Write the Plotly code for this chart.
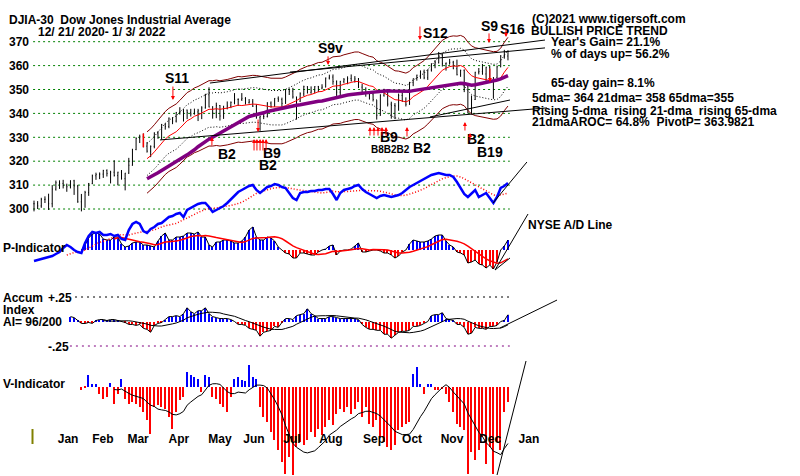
import plotly.graph_objects as go
import pandas as pd

W, H = 800, 476

# ---------------- data (one bar = 2 trading days, day 0 = 12/21/2020) ----------------
bar_day = list(range(0, 262, 2))

close = [302.2, 301.3, 304.0, 304.1, 302.2, 308.3, 311.0, 310.7, 309.9, 309.3,
         311.8, 309.6, 303.0, 299.8, 306.9, 310.6, 313.9, 314.4, 314.6, 316.1,
         314.9, 315.4, 314.0, 315.4, 312.7, 315.0, 318.3, 324.9, 329.5, 330.2,
         326.3, 324.2, 326.2, 331.7, 329.8, 335.3, 334.5, 338.0, 336.8, 340.4,
         340.8, 341.4, 340.4, 339.8, 340.6, 341.1, 342.3, 347.8, 342.7, 340.2,
         343.3, 338.9, 342.1, 343.1, 344.6, 345.8, 345.8, 346.3, 344.5, 344.8,
         343.0, 338.2, 338.8, 338.7, 344.3, 342.9, 346.3, 345.8, 344.2, 350.0,
         349.3, 346.9, 345.1, 348.2, 351.2, 348.8, 349.4, 351.2, 350.6, 351.0,
         354.8, 355.2, 353.3, 348.9, 353.4, 354.1, 354.6, 353.6, 354.4, 351.0,
         348.8, 348.7, 348.1, 345.8, 339.2, 347.6, 348.7, 343.9, 343.3, 343.1,
         347.5, 345.0, 343.8, 352.9, 354.6, 356.0, 357.4, 354.9, 358.2, 360.5,
         361.2, 364.3, 360.8, 361.0, 361.4, 358.7, 356.2, 358.0, 351.4, 340.2,
         345.8, 357.2, 357.5, 356.5, 359.3, 353.7, 354.9, 359.5, 364.0, 364.0,
         365.9]

high = [303.5, 303.3, 304.7, 305.3, 306.4, 310.0, 311.9, 312.0, 312.2, 310.6,
        312.0, 312.2, 310.1, 306.3, 307.6, 310.9, 314.4, 315.2, 315.3, 316.4,
        316.6, 316.0, 320.4, 315.6, 316.3, 315.1, 321.4, 325.2, 330.0, 331.1,
        331.6, 328.0, 326.6, 332.1, 332.6, 335.6, 335.9, 338.3, 338.4, 340.6,
        342.6, 341.8, 341.6, 341.9, 342.0, 341.9, 343.0, 348.2, 350.9, 343.0,
        344.5, 343.5, 343.2, 345.0, 345.0, 348.5, 346.3, 348.5, 346.8, 346.0,
        346.0, 343.8, 339.0, 339.8, 344.7, 345.0, 346.4, 347.1, 346.6, 350.2,
        350.5, 350.7, 347.0, 348.8, 351.6, 351.4, 351.3, 351.4, 351.5, 352.2,
        355.0, 356.2, 356.3, 353.8, 353.6, 354.8, 355.5, 356.3, 355.6, 354.8,
        352.4, 350.9, 349.0, 349.1, 345.6, 348.0, 350.3, 349.2, 344.9, 344.3,
        348.3, 348.9, 346.7, 353.2, 354.6, 356.2, 358.0, 358.3, 358.4, 361.0,
        362.3, 365.7, 365.1, 361.3, 362.8, 362.0, 362.5, 358.3, 358.4, 352.0,
        347.5, 357.4, 359.0, 360.7, 359.5, 359.9, 355.2, 360.0, 364.4, 366.6,
        366.4]

low = [299.0, 300.0, 300.5, 302.5, 299.6, 300.7, 307.7, 308.4, 308.6, 307.2,
       308.6, 305.9, 302.6, 299.0, 300.5, 305.5, 310.4, 312.2, 312.5, 313.0,
       313.6, 310.7, 313.6, 309.9, 312.3, 307.8, 314.7, 318.1, 324.6, 327.6,
       325.8, 323.6, 321.7, 325.4, 329.4, 329.0, 333.2, 333.8, 335.5, 336.2,
       339.5, 336.6, 337.6, 338.7, 339.5, 336.8, 337.6, 342.0, 342.5, 337.8,
       338.0, 337.0, 337.7, 341.7, 342.2, 343.8, 343.1, 345.2, 343.7, 344.1,
       342.7, 337.8, 332.7, 337.6, 338.3, 342.4, 342.8, 344.8, 342.2, 344.0,
       347.7, 346.2, 337.4, 344.8, 347.2, 348.3, 348.2, 348.4, 348.9, 350.1,
       350.9, 354.2, 352.0, 347.3, 347.5, 352.6, 352.2, 353.4, 352.9, 350.6,
       348.1, 347.0, 345.8, 345.0, 337.4, 339.0, 347.0, 342.9, 337.8, 337.6,
       341.1, 344.9, 342.9, 343.6, 351.4, 353.7, 354.5, 354.3, 354.0, 357.5,
       358.9, 360.9, 359.6, 357.9, 360.4, 358.5, 355.9, 355.3, 348.9, 340.0,
       339.6, 345.6, 356.3, 356.2, 353.6, 352.9, 346.1, 354.7, 359.3, 362.9,
       362.2]

key_bar = [30]  # bar drawn in red

ad_line = [9, 10, 11, 12, 13, 14, 16, 18, 22, 25,
           23, 20, 18, 17, 27, 34, 38, 37, 38, 35,
           35, 36, 34, 35, 31, 30, 40, 46, 48, 46,
           39, 37, 41, 43, 46, 47, 50, 53, 54, 56,
           57, 53, 60, 62, 64, 66, 67, 67, 63, 58,
           60, 62, 64, 67, 71, 75, 78, 80, 82, 84,
           85, 80, 77, 80, 83, 84, 86, 85, 83, 82,
           77, 72, 70, 77, 78, 78, 79, 79, 80, 80,
           81, 81, 76, 70, 77, 80, 81, 82, 84, 85,
           81, 78, 76, 74, 72, 74, 75, 74, 73, 74,
           75, 77, 80, 83, 85, 87, 89, 91, 93, 95,
           96, 97, 96, 95, 95, 93, 88, 82, 76, 73,
           77, 80, 73, 75, 77, 72, 67, 73, 82, 84,
           87]

p_ind = [None] * 13 + [
    0, 5, 12, 16, 17, 16, 11, 10, 10, 13,
    13, 6, 3, 4, 7, 8, 8, 5, 5, 4,
    3, 9, 14, 17, 10, 10, 13, 13, 14, 17,
    17, 16, 18, 13, 13, 5, 3, 8, 8, 10,
    10, 9, 7, 7, 9, 13, 20, 23, 13, 10,
    10, 13, 12, 9, 3, 0, -3, -4, -8, -8,
    -3, -3, -4, -5, -5, -2, 0, 1, 4, 5,
    -5, -1, 0, 0, 1, 4, 7, -2, -2, -1,
    0, 0, -1, -3, -3, -5, -8, -6, -2, 0,
    6, 10, 9, 8, 8, 9, 11, 14, 15, 15,
    9, 5, 3, -2, -3, -5, -13, -12, -10, -14,
    -15, -18, -15, -19, -12, 0, 4, 10]

accum = [None] * 10 + [
    5, 4, 1, -2, -2, -1, -2, 1, 2, 2,
    1, 2, 2, 1, 0, -1, -3, -3, -4, -3,
    -7, -8, -11, -4, -2, -1, 2, 5, 5, 6,
    5, 8, 14, 10, 8, 11, 11, 14, 8, 5,
    4, 3, 3, 3, 2, 0, -3, -3, -4, -7,
    -8, -9, -15, -11, -10, -9, -5, -6, -1, 3,
    3, 2, 6, 7, 8, 13, 8, 6, 3, 3,
    3, 5, 5, 4, 3, 3, 3, 3, 3, 2,
    -3, -6, -8, -8, -9, -9, -13, -13, -17, -14,
    -11, -10, -10, -9, -5, -5, -4, -2, 0, 6,
    7, 7, 9, 3, 2, 1, -3, -3, -6, -13,
    -12, -6, -7, -7, -8, -5, -5, -4, 0, 1,
    7]  # in hundredths

v_ind = [None] * 13 + [
    -3, -1, 12, 3, 3, -7, -12, -10, 4, -17,
    -7, 8, -12, -17, -15, -17, -20, -25, -33, -47,
    -20, -18, -20, -22, -30, -42, -25, -13, -10, 15,
    12, 10, 8, -5, 12, 10, -10, -12, -17, -20,
    -25, -10, 8, 10, 7, 6, 22, 10, 8, -20,
    -30, -35, -45, -53, -63, -75, -87, -70, -88, -60,
    -55, -58, -53, -45, -50, -42, -48, -40, -33, -38,
    -27, -22, -25, -20, -27, -22, -15, -30, -20, -37,
    -40, -33, -50, -55, -60, -63, -58, -43, -40, -37,
    -35, 13, 20, 3, -7, 3, 3, -3, -3, -2,
    -7, -15, -25, -37, -40, -43, -87, -65, -73, -63,
    -50, -77, -60, -87, -55, -63, -25, -15]

for arr in (close, high, low, ad_line, p_ind, accum, v_ind):
    assert len(arr) == len(bar_day), len(arr)

month_labels = ["Jan", "Feb", "Mar", "Apr", "May", "Jun", "Jul", "Aug", "Sep", "Oct", "Nov", "Dec", "Jan"]
month_pos = [18.7, 37.8, 57.1, 79.5, 102.0, 120.7, 141.5, 162.9, 186.5, 207.4, 229.3, 250.2, 271.5]
price_ticks = [300, 310, 320, 330, 340, 350, 360, 370]

# signals: label, day, price
signal_text = ["S11", "B2", "B9", "B2", "S9v", "B9", "B8B2B2", "B2", "S12", "B2", "B19", "S9", "S16"]
signal_day = [78.7, 105.9, 130.5, 128.4, 162.4, 194.5, 195.5, 213.0, 220.5, 242.5, 250.0, 249.6, 262.5]
signal_price = [354.8, 323.0, 323.5, 318.5, 367.4, 330.2, 325.0, 325.6, 373.6, 329.3, 324.0, 376.6, 375.3]
signal_size = [14, 14, 14, 14, 14, 14, 10, 14, 14, 14, 14, 14, 14]

# arrows: tip day, tip price, direction (+1 up / -1 down), length in px
arrow_day = [76.2, 97.6, 120.7, 122.3, 124.0, 125.6, 127.3, 122.9, 161.3,
             184.3, 186.5, 188.7, 190.9, 193.1, 204.6, 211.7, 236.4, 239.2, 249.6, 250.1, 258.9]
arrow_price = [345.6, 330.1, 329.3, 329.3, 329.3, 329.3, 329.3, 332.2, 360.3,
               334.3, 334.3, 334.3, 334.3, 334.3, 334.3, 370.7, 336.4, 331.8, 369.5, 353.1, 372.0]
arrow_dir = [-1, 1, 1, 1, 1, 1, 1, -1, -1,
             1, 1, 1, 1, 1, 1, -1, 1, 1, -1, -1, -1]
arrow_len = [15, 10, 13, 13, 13, 13, 13, 14, 10,
             10, 10, 10, 10, 10, 11, 15, 10, 9, 11, 15, 9]

# trend lines (day0, value0, day1, value1)
price_trend = [(96.5, 352.7, 280.3, 370.7), (140.4, 357.3, 280.3, 367.4),
               (69.1, 328.9, 281.4, 342.3), (217.2, 338.5, 261.1, 345.6)]
ad_trend = [(251.8, 67, 270.4, 108)]
p_trend = [(252.9, -20, 271.0, 36), (252.9, -20, 261.1, -8)]
ai_trend = [(255.6, -6.6, 286.9, 21.9)]
v_trend = [(254.0, -88.3, 269.9, 25.7)]

# ---------------- derived series ----------------
s = pd.Series(close)
ma21 = s.rolling(10).mean()
ma65 = s.rolling(32).mean()
start = 31
def masked(series):
    return [None if (i < start or pd.isna(v)) else v for i, v in enumerate(series)]
ma21_m = masked(ma21)
ma65_m = masked(ma65)
up_band = masked(ma21 * 1.035)
lo_band = masked(ma21 * 0.955)
up_dot = masked(ma21 * 1.02)
lo_dot = masked(ma21 * 0.978)

def roll(vals, n):
    r = pd.Series([float('nan') if v is None else v for v in vals]).rolling(n).mean()
    return [None if pd.isna(v) else v for v in r]

ad_ma = roll(ad_line, 10)
p_ma = roll(p_ind, 10)
ai_ma = roll(accum, 10)
v_ma = roll(v_ind, 10)

def colors(vals):
    return ["#0000FF" if (v is not None and v > 0) else "#FF0000" for v in vals]

opens = [close[0]] + close[:-1]

# ---------------- pixel geometry ----------------
DX = 1.823          # px per trading day
X0 = 34             # px of day 0
PLOT_L = 30
x_range = [(PLOT_L - X0) / DX, (W - X0) / DX]
PPP = 2.39          # px per price point
y_price = [300 - (H - 209) / PPP, 300 + 209 / PPP]
y_p = [250 - H, 250]
y_ad = [270 - H, 270]
y_ai = [-(H - 321.5) / 0.98, 321.5 / 0.98]
y_v = [386.7 - H, 386.7]

fig = go.Figure()

# price panel
for band, col, dash in [(up_band, "#800000", "solid"), (lo_band, "#800000", "solid"),
                        (up_dot, "#000000", "1px,2px"), (lo_dot, "#000000", "1px,2px")]:
    fig.add_trace(go.Scatter(x=bar_day, y=band, mode="lines",
                             line=dict(color=col, width=1, dash=dash), hoverinfo="skip"))
fig.add_trace(go.Ohlc(x=bar_day, open=opens, high=high, low=low, close=close,
                      increasing=dict(line=dict(color="black", width=1)),
                      decreasing=dict(line=dict(color="black", width=1)),
                      tickwidth=0.3, hoverinfo="none"))
fig.add_trace(go.Ohlc(x=[bar_day[i] for i in key_bar], open=[opens[i] for i in key_bar],
                      high=[high[i] for i in key_bar], low=[low[i] for i in key_bar],
                      close=[close[i] for i in key_bar],
                      increasing=dict(line=dict(color="#FF0000", width=1.5)),
                      decreasing=dict(line=dict(color="#FF0000", width=1.5)),
                      tickwidth=0.3, hoverinfo="none"))
fig.add_trace(go.Scatter(x=bar_day, y=ma21_m, mode="lines", line=dict(color="#FF0000", width=1)))
fig.add_trace(go.Scatter(x=bar_day, y=ma65_m, mode="lines", line=dict(color="#800080", width=3.5)))

# P-indicator (y2)
fig.add_trace(go.Bar(x=bar_day, y=p_ind, yaxis="y2", width=0.8,
                     marker=dict(color=colors(p_ind), line=dict(width=0))))
fig.add_trace(go.Scatter(x=bar_day, y=p_ind, yaxis="y2", mode="lines", line=dict(color="black", width=1)))
fig.add_trace(go.Scatter(x=bar_day, y=p_ma, yaxis="y2", mode="lines", line=dict(color="#FF0000", width=1.5)))

# NYSE A/D line (y3)
fig.add_trace(go.Scatter(x=bar_day, y=ad_ma, yaxis="y3", mode="lines",
                         line=dict(color="#FF0000", width=1.5, dash="1px,2px")))
fig.add_trace(go.Scatter(x=bar_day, y=ad_line, yaxis="y3", mode="lines", line=dict(color="#0000FF", width=2.5)))

# Accum index (y4)
fig.add_trace(go.Bar(x=bar_day, y=accum, yaxis="y4", width=0.8,
                     marker=dict(color=colors(accum), line=dict(width=0))))
fig.add_trace(go.Scatter(x=bar_day, y=accum, yaxis="y4", mode="lines", line=dict(color="black", width=1)))
fig.add_trace(go.Scatter(x=bar_day, y=ai_ma, yaxis="y4", mode="lines", line=dict(color="black", width=1)))

# V-indicator (y5)
fig.add_trace(go.Bar(x=bar_day, y=v_ind, yaxis="y5", width=0.8,
                     marker=dict(color=colors(v_ind), line=dict(width=0))))
fig.add_trace(go.Scatter(x=bar_day, y=v_ma, yaxis="y5", mode="lines", line=dict(color="black", width=1)))

# ---------------- shapes ----------------
shapes = []
for p in price_ticks:
    shapes.append(dict(type="line", xref="x", yref="y", x0=-0.5, x1=261, y0=p, y1=p,
                       line=dict(color="#008000", width=1, dash="2px,3px"), layer="below"))
shapes.append(dict(type="line", xref="x", yref="y4", x0=22.5, x1=261, y0=25, y1=25,
                   line=dict(color="#000000", width=1, dash="2px,4px"), layer="below"))
shapes.append(dict(type="line", xref="x", yref="y4", x0=19.7, x1=261, y0=-25, y1=-25,
                   line=dict(color="#800080", width=1, dash="2px,4px"), layer="below"))
shapes.append(dict(type="line", xref="paper", yref="paper", x0=32.5 / W, x1=32.5 / W,
                   y0=1 - 444 / H, y1=1 - 429 / H, line=dict(color="#808000", width=2)))
for yref, lines in [("y", price_trend), ("y3", ad_trend), ("y2", p_trend), ("y4", ai_trend), ("y5", v_trend)]:
    for d0, v0, d1, v1 in lines:
        shapes.append(dict(type="line", xref="x", yref=yref, x0=d0, y0=v0, x1=d1, y1=v1,
                           line=dict(color="black", width=1)))

# ---------------- annotations ----------------
FONT = dict(family="Arial, Liberation Sans", size=12, color="black", weight="bold")
texts = [
    ("DJIA-30\u00a0\u00a0Dow Jones Industrial Average", 8, 20),
    ("12/ 21/ 2020- 1/ 3/ 2022", 37, 32.5),
    ("(C)2021 www.tigersoft.com", 531, 19.5),
    ("BULLISH PRICE TREND", 530, 31),
    ("Year's Gain= 21.1%", 550, 42),
    ("% of days up= 56.2%", 550, 53.5),
    ("65-day gain= 8.1%", 550, 83),
    ("5dma= 364 21dma= 358 65dma=355", 531, 98.5),
    ("Rising 5-dma\u00a0\u00a0rising 21-dma\u00a0\u00a0rising 65-dma", 531, 110.5),
    ("21dmaAROC= 64.8%\u00a0\u00a0PivotP= 363.9821", 531, 122.5),
    ("NYSE A/D Line", 527, 225),
    ("P-Indicator", 2, 248),
    ("Accum", 2, 298),
    ("+.25", 47, 298),
    ("Index", 2, 310),
    ("AI= 96/200", 2, 322),
    ("-.25", 47, 346.5),
    ("V-Indicator", 2, 384),
]
ann = []
for t, px, py in texts:
    ann.append(dict(text=t, x=px / W, y=1 - py / H, xref="paper", yref="paper",
                    xanchor="left", yanchor="middle", showarrow=False, font=FONT, borderpad=0))
for t, d, p, sz in zip(signal_text, signal_day, signal_price, signal_size):
    ann.append(dict(text=t, x=d, y=p, xref="x", yref="y", xanchor="center", yanchor="middle",
                    showarrow=False, borderpad=0,
                    font=dict(family="Arial, Liberation Sans", size=sz, color="black", weight="bold")))
for d, p, dr, ln in zip(arrow_day, arrow_price, arrow_dir, arrow_len):
    ann.append(dict(text="", x=d, y=p, xref="x", yref="y", ax=0, ay=ln * dr,
                    showarrow=True, arrowhead=2, arrowsize=0.8, arrowwidth=1, arrowcolor="#FF0000"))

hidden = dict(overlaying="y", anchor="x", visible=False, showgrid=False, zeroline=False)
fig.update_layout(
    width=W, height=H, margin=dict(l=0, r=0, t=0, b=0),
    paper_bgcolor="white", plot_bgcolor="white",
    showlegend=False, barmode="overlay", bargap=0,
    xaxis=dict(domain=[PLOT_L / W, 1], range=x_range, anchor="free", position=1 - 430 / H,
               showgrid=False, zeroline=False, showline=False, ticks="",
               tickvals=month_pos, ticktext=month_labels, tickfont=FONT,
               rangeslider=dict(visible=False)),
    yaxis=dict(domain=[0, 1], range=y_price, anchor="x", showgrid=False, zeroline=False,
               showline=False, ticks="", tickvals=price_ticks, tickfont=FONT),
    yaxis2=dict(range=y_p, **hidden),
    yaxis3=dict(range=y_ad, **hidden),
    yaxis4=dict(range=y_ai, **hidden),
    yaxis5=dict(range=y_v, **hidden),
    shapes=shapes, annotations=ann,
)

fig.write_html("out.html", config={"displayModeBar": False},
               post_script="document.body.style.margin='0px';document.body.style.overflow='hidden';")
